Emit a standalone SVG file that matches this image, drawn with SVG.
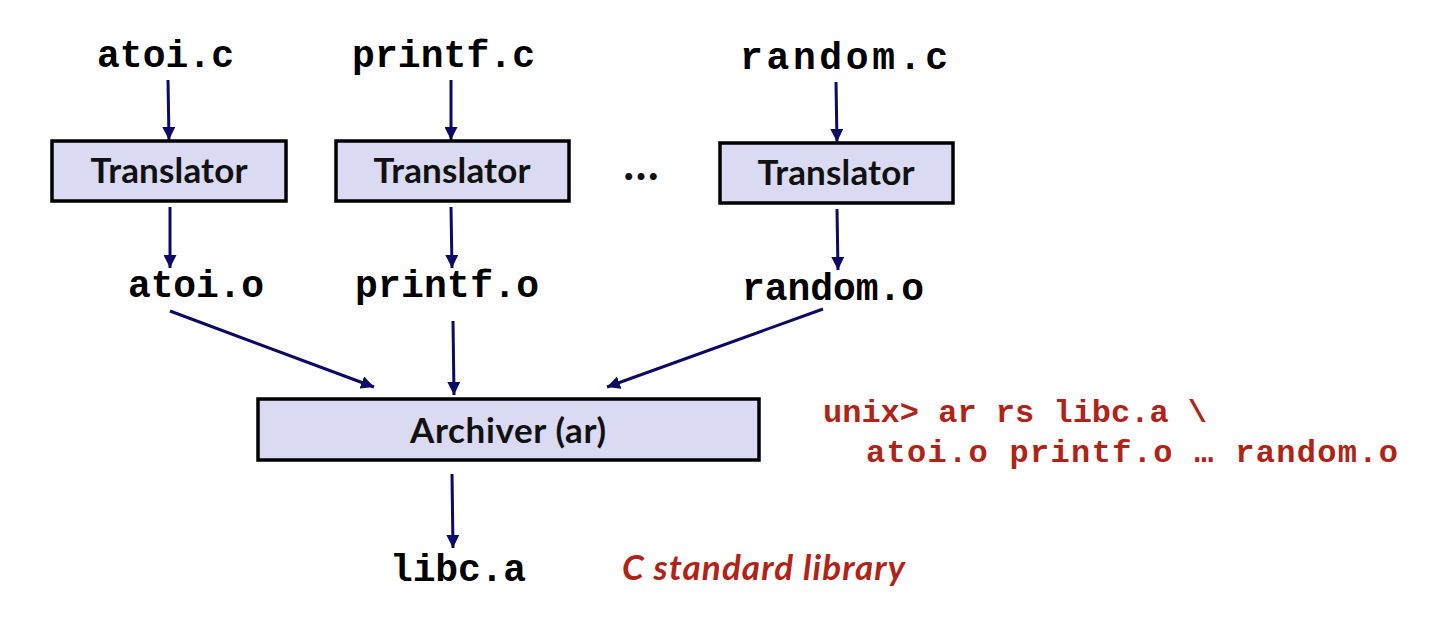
<svg xmlns="http://www.w3.org/2000/svg" width="1442" height="642" viewBox="0 0 1442 642">
<defs>
<marker id="ah" markerWidth="13" markerHeight="13" refX="10" refY="5" orient="auto" markerUnits="userSpaceOnUse" viewBox="0 0 10 10">
<path d="M0,0 L10,5 L0,10 z" fill="#0b0b66"/>
</marker>
</defs>
<style>
.box{fill:#dadaf2;stroke:#000;stroke-width:3.5}
.lbl{font-family:Lato,"Open Sans","Liberation Sans",sans-serif;font-weight:bold;font-size:35px;fill:#111;text-anchor:middle}
.mono{font-family:"Liberation Mono","DejaVu Sans Mono",monospace;font-weight:bold;font-size:38px;fill:#000}
.red{font-family:"Liberation Mono","DejaVu Sans Mono",monospace;font-weight:bold;font-size:32px;fill:#b02418}
.it{font-family:Lato,"Open Sans","Liberation Sans",sans-serif;font-weight:bold;font-style:italic;font-size:35px;fill:#b02418}
.c{stroke:#0b0b66;stroke-width:3;fill:none;marker-end:url(#ah)}
</style>
<g id="connectors">
<line class="c" x1="168" y1="80" x2="169" y2="140"/>
<line class="c" x1="451" y1="80" x2="451" y2="140"/>
<line class="c" x1="836" y1="82" x2="837" y2="142"/>
<line class="c" x1="170" y1="207" x2="170" y2="268"/>
<line class="c" x1="451" y1="207" x2="452" y2="268"/>
<line class="c" x1="837" y1="209" x2="838" y2="270"/>
<line class="c" x1="170" y1="311" x2="374" y2="387"/>
<line class="c" x1="453" y1="321" x2="454" y2="395"/>
<line class="c" x1="823" y1="309" x2="607" y2="387"/>
<line class="c" x1="452" y1="474" x2="453" y2="548"/>
</g>
<g id="atoi_c"><text class="mono" x="97" y="67" textLength="137">atoi.c</text></g>
<g id="printf_c"><text class="mono" x="352" y="67" textLength="183">printf.c</text></g>
<g id="random_c"><text class="mono" x="740" y="69" textLength="208">random.c</text></g>
<g id="translator1"><rect class="box" x="52" y="141" width="234" height="60"/><text class="lbl" x="169" y="183" textLength="157">Translator</text></g>
<g id="translator2"><rect class="box" x="336" y="141" width="233" height="60"/><text class="lbl" x="452" y="183" textLength="157">Translator</text></g>
<g id="ellipsis"><text class="lbl" x="641" y="180" style="font-size:46px">…</text></g>
<g id="translator3"><rect class="box" x="720" y="143" width="233" height="60"/><text class="lbl" x="836" y="185" textLength="157">Translator</text></g>
<g id="atoi_o"><text class="mono" x="128" y="297" textLength="136">atoi.o</text></g>
<g id="printf_o"><text class="mono" x="355" y="297" textLength="184">printf.o</text></g>
<g id="random_o"><text class="mono" x="742" y="300" textLength="182">random.o</text></g>
<g id="archiver"><rect class="box" x="258" y="399" width="501" height="61"/><text class="lbl" x="508" y="443" textLength="196">Archiver (ar)</text></g>
<g id="libc_a"><text class="mono" x="390" y="581" textLength="136">libc.a</text></g>
<g id="command"><text class="red" x="823" y="422">unix&gt; ar rs libc.a \</text><text class="red" x="866" y="462" textLength="532">atoi.o printf.o … random.o</text></g>
<g id="note"><text class="it" x="622" y="580" textLength="283">C standard library</text></g>
</svg>
